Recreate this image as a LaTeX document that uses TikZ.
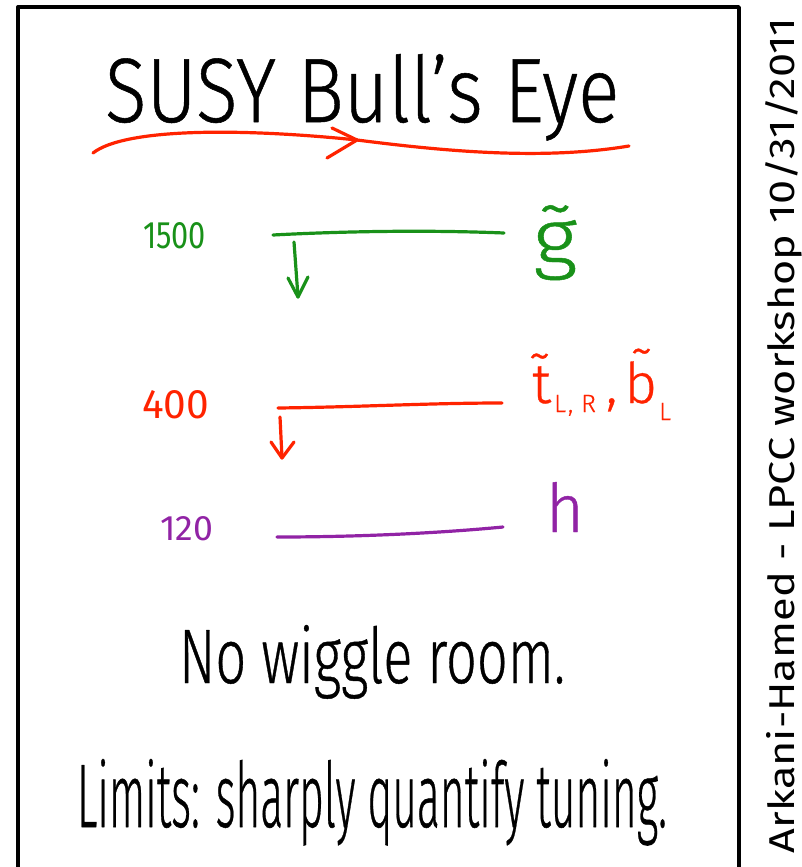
\documentclass[tikz,border=0pt]{standalone}
\usepackage{fontspec}
\usepackage{graphicx}
\setmainfont{Fira Sans}
\newfontfamily\hand{Fira Sans Light}[FakeBold=0.6]
\newfontfamily\numfont{Fira Sans}
\newfontfamily\side{Fira Sans}
\definecolor{hgreen}{RGB}{25,145,25}
\definecolor{hred}{RGB}{255,35,0}
\definecolor{hpurple}{RGB}{145,35,165}
\begin{document}
\begin{tikzpicture}[x=1pt,y=-1pt,line cap=round,line join=round,
  frame/.style={line width=3.5pt,black},
  greenstroke/.style={line width=3.2pt,hgreen},
  redstroke/.style={line width=3.2pt,hred},
  purplestroke/.style={line width=3.2pt,hpurple},
  lbl/.style={anchor=base west,inner sep=0pt,outer sep=0pt}]
\useasboundingbox (0,0) rectangle (802,867);
% frame
\draw[frame] (18,7) -- (739,7) -- (739,880);
\draw[frame] (18,7) -- (18,880);
% title
\node[lbl] (title) at (105,122) {\resizebox{514pt}{68pt}{\hand SUSY Bull’s Eye}};
% red underline with arrow
\coordinate (rs) at (93,153);
\coordinate (rt) at (357,140);
\coordinate (re) at (629,146);
\coordinate (rw1) at (332,128);
\coordinate (rw2) at (327,158);
\draw[redstroke] (rs) .. controls (125,128) and (240,128) .. (rt) .. controls (450,152) and (545,160) .. (re);
\draw[redstroke] (rw1) -- (rt) -- (rw2);
% green level
\node[lbl,text=hgreen] (n1500) at (143,248) {\resizebox{63pt}{26pt}{\numfont 1500}};
\coordinate (gL) at (273,235);
\coordinate (gR) at (504,233);
\draw[greenstroke] (gL) .. controls (350,231) and (430,230) .. (gR);
\coordinate (ga1) at (294,242);
\coordinate (ga2) at (298,297);
\coordinate (gw1) at (288,278);
\coordinate (gw2) at (308,277);
\draw[greenstroke] (ga1) -- (ga2);
\draw[greenstroke] (gw1) -- (ga2) -- (gw2);
\node[anchor=north west,inner sep=0pt,text=hgreen] (gl) at (533,205) {\resizebox*{44pt}{75pt}{\hand\~{g}}};
% red level
\node[lbl,text=hred] (n400) at (142,418) {\resizebox{67pt}{28pt}{\numfont 400}};
\coordinate (sL) at (278,408);
\coordinate (sR) at (502,403);
\draw[redstroke] (sL) .. controls (360,407) and (430,403) .. (sR);
\coordinate (sa1) at (280,417);
\coordinate (sa2) at (282,458);
\coordinate (sw1) at (271,442);
\coordinate (sw2) at (294,442);
\draw[redstroke] (sa1) -- (sa2);
\draw[redstroke] (sw1) -- (sa2) -- (sw2);
\node[lbl,text=hred] (sq) at (532,403) {\hand\fontsize{56}{56}\selectfont \~{t}\hspace{3pt}\raisebox{-9pt}{\fontsize{25}{25}\selectfont L\hspace{2pt},\hspace{8pt}R}\hspace{10pt},\hspace{7pt}\~{b}\hspace{2pt}\raisebox{-17pt}{\fontsize{25}{25}\selectfont L}};
% purple level
\node[lbl,text=hpurple] (n120) at (160,540) {\resizebox{53pt}{24pt}{\numfont 120}};
\coordinate (hL) at (277,537);
\coordinate (hR) at (503,527);
\draw[purplestroke] (hL) .. controls (360,537) and (440,533) .. (hR);
\node[lbl,text=hpurple] (hl) at (546,532) {\resizebox{38pt}{50pt}{\hand h}};
% bottom text
\node[lbl] (wiggle) at (179,683) {\resizebox{386pt}{58pt}{\hand No wiggle room.}};
\node[lbl] (limits) at (77,827) {\resizebox{590pt}{68pt}{\hand Limits: sharply quantify tuning.}};
% side credit
\node[lbl,rotate=90] (credit) at (794,853) {\resizebox{835pt}{29pt}{\side Arkani-Hamed - LPCC workshop 10/31/2011}};
\end{tikzpicture}
\end{document}
